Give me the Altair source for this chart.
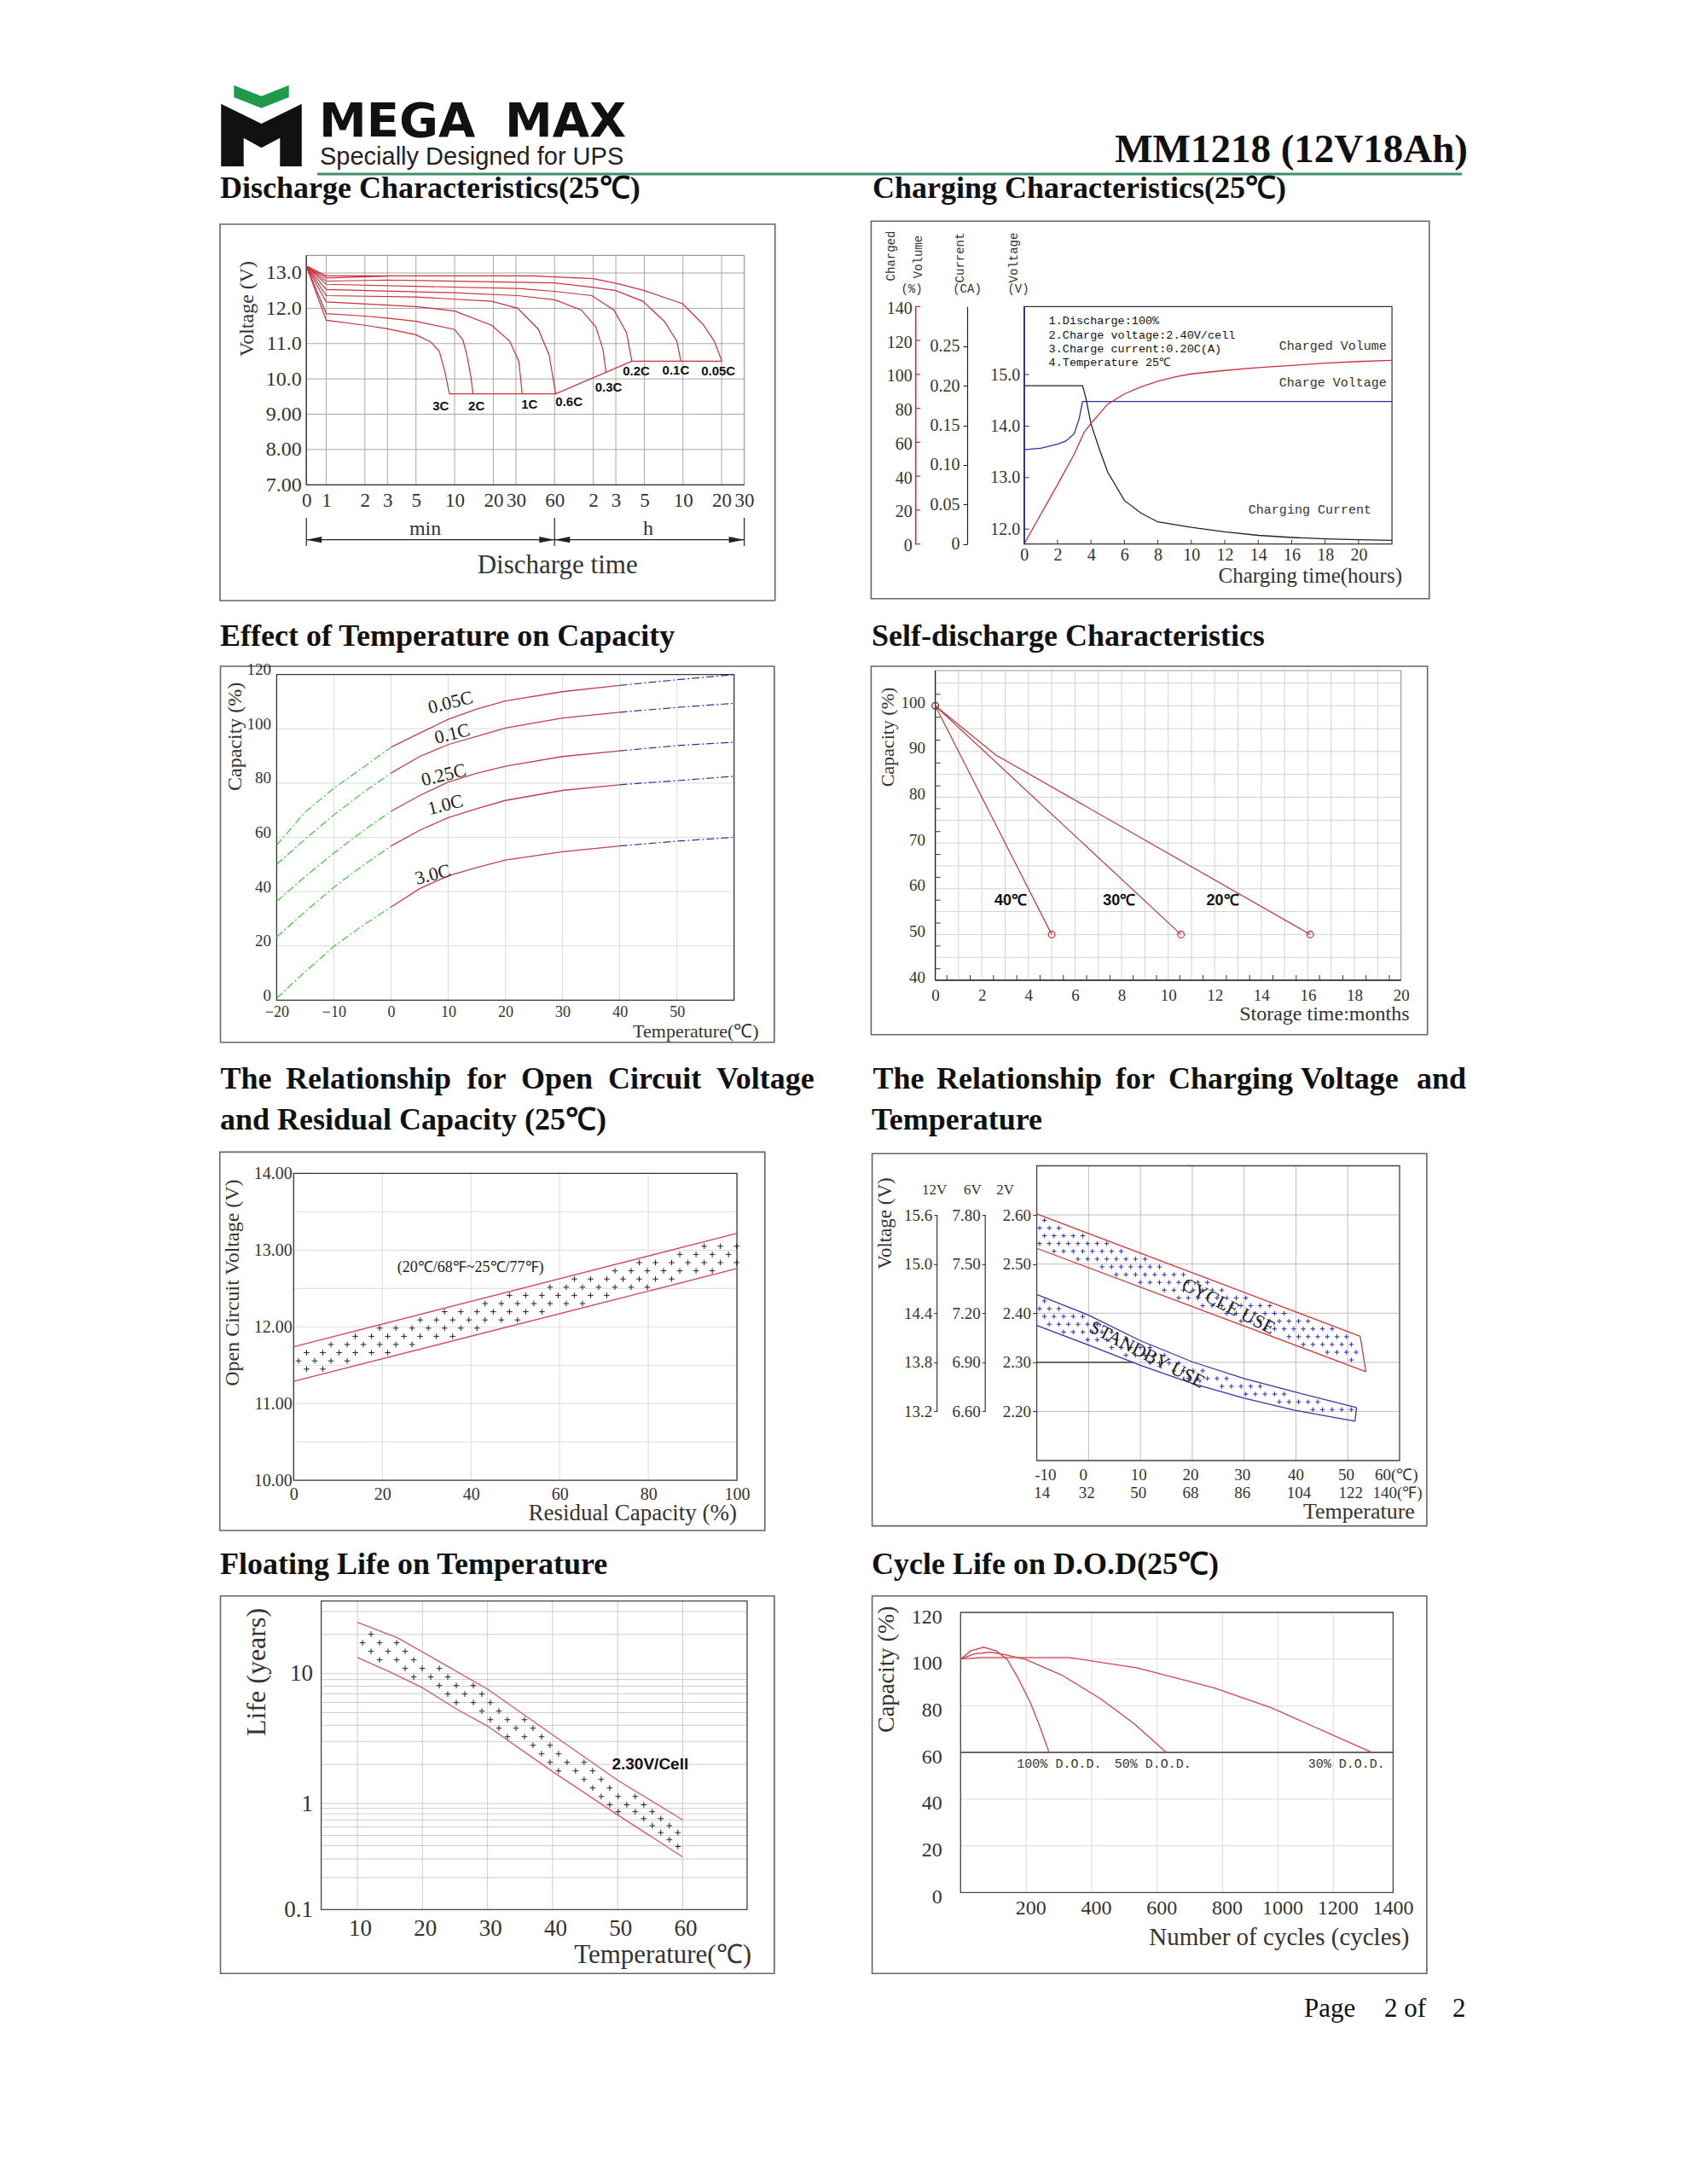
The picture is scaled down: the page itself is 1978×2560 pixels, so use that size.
import altair as alt
import numpy as np
import pandas as pd

# ================================================================
# DATA - values read from the MM1218 (12V18Ah) datasheet page
# ================================================================

# 1) Discharge characteristics (25C); time in minutes (0.7 min = the "0" at the axis origin)
dis_t_3C = [0.7, 1, 2, 3, 5, 6.5, 7.6, 8.4, 9.1]
dis_v_3C = [13.2, 11.66, 11.52, 11.42, 11.25, 11.05, 10.78, 10.2, 9.58]
dis_t_2C = [0.7, 1, 2, 3, 5, 10, 11.6, 12.4, 13.4, 13.9]
dis_v_2C = [13.2, 11.85, 11.78, 11.72, 11.63, 11.40, 11.1, 10.7, 10.05, 9.58]
dis_t_1C = [0.7, 1, 5, 10, 19.4, 26.8, 31.6, 33.6]
dis_v_1C = [13.2, 12.18, 12.05, 11.92, 11.52, 11.07, 10.5, 9.58]
dis_t_06C = [0.7, 1, 5, 19.4, 31, 45, 54.5, 61.2]
dis_v_06C = [13.2, 12.36, 12.32, 12.2, 12.0, 11.4, 10.67, 9.58]
dis_t_03C = [0.7, 1, 10, 31, 60, 97, 126, 143, 151]
dis_v_03C = [13.2, 12.53, 12.44, 12.36, 12.24, 11.95, 11.47, 10.83, 10.19]
dis_t_02C = [0.7, 1, 31, 60, 117, 174, 218, 240]
dis_v_02C = [13.2, 12.68, 12.56, 12.48, 12.36, 11.95, 11.31, 10.5]
dis_t_01C = [0.7, 1, 3, 60, 117, 180, 292, 430, 538, 578]
dis_v_01C = [13.2, 12.77, 12.80, 12.72, 12.60, 12.50, 12.2, 11.63, 11.07, 10.5]
dis_t_005C = [0.7, 1, 40, 120, 185, 300, 595, 857, 1052, 1206]
dis_v_005C = [13.2, 12.92, 12.92, 12.84, 12.70, 12.50, 12.13, 11.55, 11.07, 10.5]
dis_t_aux = [0.7, 1, 3]
dis_v_aux = [13.2, 12.86, 12.91]
dis_cut_t = [9.1, 61.2, 240, 1206]
dis_cut_v = [9.58, 9.58, 10.5, 10.5]
dis_labels = ["3C", "2C", "1C", "0.6C", "0.3C", "0.2C", "0.1C", "0.05C"]
dis_label_t = [7.8, 14.8, 38.3, 77.8, 158, 260, 528, 1130]
dis_label_v = [9.22, 9.22, 9.29, 9.34, 9.77, 10.23, 10.25, 10.21]
dis_x_ticks = [0.7, 1, 2, 3, 5, 10, 20, 30, 60, 120, 180, 300, 600, 1200, 1800]
dis_y_ticks = [7, 8, 9, 10, 11, 12, 13]

# 2) Charging characteristics (25C); time in hours
chg_t_volt = [0, 1, 2, 2.5, 3, 3.3, 3.5, 22]
chg_volt = [13.54, 13.57, 13.65, 13.71, 13.85, 14.15, 14.475, 14.475]
chg_t_cur = [0, 3.5, 3.7, 4, 4.5, 5, 6, 7, 8, 10, 12, 14, 16, 18, 20, 22]
chg_cur = [0.20, 0.20, 0.184, 0.152, 0.12, 0.091, 0.055, 0.039, 0.028, 0.021,
           0.0155, 0.011, 0.0083, 0.0065, 0.0054, 0.0047]
chg_t_vol = [0, 2, 3, 3.6, 4, 5, 6, 7, 8, 9, 10, 12, 14, 16, 18, 20, 22]
chg_vol = [0, 35, 53, 66, 71, 82.5, 88.5, 92.7, 96, 98.5, 100.3, 102.3, 104, 105.3, 106.6, 107.6, 108.3]
chg_notes = ["1.Discharge:100%", "2.Charge voltage:2.40V/cell",
             "3.Charge current:0.20C(A)", "4.Temperature 25\u2103"]
chg_x_ticks = [0, 2, 4, 6, 8, 10, 12, 14, 16, 18, 20]
chg_pct_ticks = [0, 20, 40, 60, 80, 100, 120, 140]
chg_ca_ticks = [0, 0.05, 0.10, 0.15, 0.20, 0.25]
chg_v_ticks = [12, 13, 14, 15]

# 3) Effect of temperature on capacity
tc_rates = ["0.05C", "0.1C", "0.25C", "1.0C", "3.0C"]
tc_t_green = [-20, -15, -10, -5, 0]
tc_t_red = [0, 5, 10, 15, 20, 30, 40]
tc_t_blue = [40, 50, 60]
tc_005_green = [57.1, 69.4, 78.1, 85.6, 93.2]
tc_005_red = [93.2, 98.4, 103.5, 107.3, 110.3, 113.7, 116.0]
tc_005_blue = [116.0, 118.1, 120.0]
tc_01_green = [50.0, 59.4, 68.3, 76.3, 83.7]
tc_01_red = [83.7, 89.8, 94.2, 97.2, 100.3, 104.0, 106.1]
tc_01_blue = [106.1, 107.9, 109.4]
tc_025_green = [36.4, 45.6, 54.2, 62.2, 69.6]
tc_025_red = [69.6, 75.4, 80.4, 83.6, 86.2, 89.8, 91.9]
tc_025_blue = [91.9, 93.8, 95.1]
tc_1_green = [23.3, 32.6, 41.6, 49.5, 56.8]
tc_1_red = [56.8, 62.6, 67.3, 70.6, 73.6, 77.3, 79.4]
tc_1_blue = [79.4, 80.9, 82.5]
tc_3_green = [0.7, 10.5, 19.8, 27.4, 34.3]
tc_3_red = [34.3, 41.1, 45.8, 48.9, 51.6, 54.7, 56.8]
tc_3_blue = [56.8, 58.6, 60.0]
tc_label_t = [10.4, 10.7, 9.2, 9.5, 7.3]
tc_label_c = [109.7, 98.2, 83.0, 72.0, 46.3]

# 4) Self-discharge characteristics (months, %)
sd_t_40 = [0, 5.0]
sd_c_40 = [100, 50]
sd_t_30 = [0, 10.55]
sd_c_30 = [100, 50]
sd_t_20 = [0, 2.6, 16.1]
sd_c_20 = [100, 89.25, 50]
sd_labels = ["40\u2103", "30\u2103", "20\u2103"]
sd_label_t = [3.24, 7.9, 12.34]
sd_label_c = [57.3, 57.3, 57.3]

# 5) Open circuit voltage vs residual capacity
ocv_cap = [0, 100]
ocv_hi = [11.74, 13.22]
ocv_lo = [11.29, 12.76]

# 6) Charging voltage vs temperature (2V cell scale)
cv_cyc_x_hi = [-10, 52.4]
cv_cyc_hi = [2.602, 2.353]
cv_cyc_x_lo = [-10, 53.5]
cv_cyc_lo = [2.532, 2.281]
cv_sb_x_hi = [-10, 0, 10, 20, 30, 40, 51.7]
cv_sb_hi = [2.438, 2.396, 2.344, 2.301, 2.267, 2.239, 2.208]
cv_sb_x_lo = [-10, 0, 10, 20, 30, 40, 51.4]
cv_sb_lo = [2.375, 2.335, 2.294, 2.257, 2.227, 2.202, 2.180]
cv_lab_c = ["-10", "0", "10", "20", "30", "40", "50", "60(\u2103)"]
cv_lab_c_x = [-8.3, -1, 9.7, 19.7, 29.7, 40, 49.7, 59.4]
cv_lab_f = ["14", "32", "50", "68", "86", "104", "122", "140(\u2109)"]
cv_lab_f_x = [-9.0, -0.35, 9.6, 19.7, 29.7, 40.6, 50.6, 59.6]

# 7) Floating life vs temperature
fl_x_hi = [10, 16.2, 22.4, 30, 40, 50, 60]
fl_hi = [24.8, 18.8, 12.5, 7.58, 3.38, 1.51, 0.70]
fl_x_lo = [10, 15.1, 20, 25.1, 30, 40, 50, 60]
fl_lo = [13.3, 10.25, 7.77, 5.38, 3.94, 1.76, 0.78, 0.313]
fl_grid = [0.2, 0.3, 0.4, 0.5, 0.6, 0.7, 0.8, 0.9, 1, 2, 3, 4, 5, 6, 7, 8, 9, 10, 20, 30]

# 8) Cycle life vs depth of discharge
cl_n_100 = [0, 31, 70, 109, 142, 175, 214, 241, 270]
cl_c_100 = [100, 103.5, 105.1, 103.5, 99.9, 92, 81, 71.5, 60]
cl_n_50 = [0, 42, 92, 142, 197, 308, 429, 529, 628]
cl_c_50 = [100, 102.2, 103, 101.7, 99.9, 93.2, 82.8, 72.4, 60]
cl_n_30 = [0, 64, 330, 540, 773, 977, 1340]
cl_c_30 = [100, 100.7, 100.7, 96.2, 87.7, 79.1, 60]
cl_labels = ["100% D.O.D.", "50% D.O.D.", "30% D.O.D."]
cl_label_n = [172, 470, 1109]
cl_label_c = [55.2, 55.2, 55.2]

# ================================================================
# STYLE / LAYOUT HELPERS
# ================================================================
W, H = 1962, 2544
SERIF, MONO, SANS, DSANS = "Liberation Serif", "Liberation Mono", "Liberation Sans", "DejaVu Sans"
INK, LAB = "#111111", "#333333"
RED, BLUE, GREEN = "#c8323c", "#2f2fa0", "#3cc83c"
PLUS = "M-1,0H1M0,-1V1"


def P(v):
    return v - 8


def one():
    return alt.Data(values=[{"k": 0}])


def sc(domain, r0, r1, **kw):
    return alt.Scale(domain=domain, range=[P(r0), P(r1)], nice=False, zero=False, **kw)


def ax_b(at_y, values, size=20, pad=6, **kw):
    d = dict(orient="bottom", offset=P(at_y) - H, values=values, title=None, grid=False,
             domain=False, ticks=False, labelFont=SERIF, labelFontSize=size, labelColor=LAB,
             labelPadding=pad, labelFlush=False, labelOverlap=False, zindex=1)
    d.update(kw)
    return alt.Axis(**d)


def ax_l(at_x, values, size=20, pad=6, **kw):
    d = dict(orient="left", offset=-P(at_x), values=values, title=None, grid=False,
             domain=False, ticks=False, labelFont=SERIF, labelFontSize=size, labelColor=LAB,
             labelPadding=pad, labelFlush=False, labelOverlap=False, zindex=1)
    d.update(kw)
    return alt.Axis(**d)


def T(text, x, y, size, font=SERIF, weight="normal", align="left", baseline="alphabetic",
      angle=0, color=INK):
    return alt.Chart(one()).mark_text(text=text, font=font, fontSize=size, fontWeight=weight,
                                      align=align, baseline=baseline, angle=angle, color=color
                                      ).encode(x=alt.value(P(x)), y=alt.value(P(y)))


def BOX(x0, y0, x1, y1, color="#666666", sw=1.6):
    return alt.Chart(one()).mark_rect(fill="white", fillOpacity=0, stroke=color, strokeWidth=sw).encode(
        x=alt.value(P(x0)), x2=alt.value(P(x1)), y=alt.value(P(y0)), y2=alt.value(P(y1)))


def vrules(vals, y0, y1, xs, ys, color, sw=1.0, xaxis=None, yaxis=None):
    df = pd.DataFrame({"x": list(vals), "y0": y0, "y1": y1})
    return alt.Chart(df).mark_rule(color=color, strokeWidth=sw).encode(
        x=alt.X("x:Q", scale=xs, axis=xaxis), y=alt.Y("y0:Q", scale=ys, axis=yaxis), y2=alt.Y2("y1"))


def hrules(vals, x0, x1, xs, ys, color, sw=1.0, xaxis=None, yaxis=None):
    df = pd.DataFrame({"y": list(vals), "x0": x0, "x1": x1})
    return alt.Chart(df).mark_rule(color=color, strokeWidth=sw).encode(
        y=alt.Y("y:Q", scale=ys, axis=yaxis), x=alt.X("x0:Q", scale=xs, axis=xaxis), x2=alt.X2("x1"))


def pframe(x0, x1, y0, y1, xs, ys, color, sw=1.2, xaxis=None, yaxis=None):
    df = pd.DataFrame({"x0": [x0], "x1": [x1], "y0": [y0], "y1": [y1]})
    return alt.Chart(df).mark_rect(fill="white", fillOpacity=0, stroke=color, strokeWidth=sw).encode(
        x=alt.X("x0:Q", scale=xs, axis=xaxis), x2=alt.X2("x1"),
        y=alt.Y("y0:Q", scale=ys, axis=yaxis), y2=alt.Y2("y1"))


def lines(series, xs, ys, color, sw=1.3, dash=None, yaxis=None, xaxis=None):
    rows = []
    for name, xv, yv in series:
        for i, (a, b) in enumerate(zip(xv, yv)):
            rows.append({"s": name, "x": a, "y": b, "i": i})
    mk = dict(color=color, strokeWidth=sw)
    if dash:
        mk["strokeDash"] = dash
    return alt.Chart(pd.DataFrame(rows)).mark_line(**mk).encode(
        x=alt.X("x:Q", scale=xs, axis=xaxis), y=alt.Y("y:Q", scale=ys, axis=yaxis),
        detail="s:N", order="i:Q")


def dtext(texts, xv, yv, xs, ys, size, font=SERIF, weight="normal", color=INK, angle=0,
          align="center", baseline="middle"):
    df = pd.DataFrame({"x": xv, "y": yv, "t": texts})
    return alt.Chart(df).mark_text(font=font, fontSize=size, fontWeight=weight, color=color,
                                   angle=angle, align=align, baseline=baseline).encode(
        x=alt.X("x:Q", scale=xs, axis=None), y=alt.Y("y:Q", scale=ys, axis=None), text=alt.Text("t:N"))


def pts(xv, yv, xs, ys, shape, size, color, sw=1.0, filled=False):
    df = pd.DataFrame({"x": xv, "y": yv})
    return alt.Chart(df).mark_point(shape=shape, size=size, filled=filled, color=color,
                                    strokeWidth=sw, opacity=1).encode(
        x=alt.X("x:Q", scale=xs, axis=None), y=alt.Y("y:Q", scale=ys, axis=None))


def lattice(xu, yu, xl, yl, dx, dy, log=False, margin=0.38, shift=0.3):
    """texture of '+' marks filling the band between two boundary lines"""
    xu = np.asarray(xu, float); yu = np.asarray(yu, float)
    xl = np.asarray(xl, float); yl = np.asarray(yl, float)
    if log:
        yu = np.log10(yu); yl = np.log10(yl)
    x_lo, x_hi = max(xu[0], xl[0]), min(xu[-1], xl[-1])
    y_lo, y_hi = min(yl.min(), yu.min()), max(yl.max(), yu.max())
    px, py = [], []
    row, y = 0, y_lo + dy * 0.5
    while y < y_hi:
        x = x_lo + dx * (shift + (0.5 if row % 2 else 0.0))
        while x < x_hi:
            lo, hi = np.interp(x, xl, yl), np.interp(x, xu, yu)
            if lo + dy * margin <= y <= hi - dy * margin:
                px.append(float(x)); py.append(float(10 ** y if log else y))
            x += dx
        y += dy
        row += 1
    return px, py


def panel(items):
    # every element keeps its own (explicit) scales and axes
    return alt.layer(*items).resolve_scale(x="independent", y="independent")


L = []

# ================================================================
# HEADER / TITLES / FOOTER
# ================================================================
LOGO_GREEN = "M-0.671,-1L0,-0.735L0.671,-1L0.671,-0.708L0,-0.444L-0.671,-0.708Z"
LOGO_BLACK = ("M-0.985,-0.548L0,-0.0625L0.985,-0.548L0.985,0.979L0.454,0.979L0.454,0.285"
              "L0,0.527L-0.433,0.285L-0.433,0.979L-0.985,0.979Z")
for shp, col in [(LOGO_GREEN, "#1f9a4a"), (LOGO_BLACK, "#111111")]:
    L.append(alt.Chart(one()).mark_point(shape=shp, size=9216, filled=True, color=col, opacity=1,
                                         strokeWidth=0).encode(x=alt.value(P(306.5)), y=alt.value(P(148))))
L.append(T("MEGA", 374, 160, 56, font=DSANS, weight="bold"))
L.append(T("MAX", 592, 160, 56, font=DSANS, weight="bold"))
L.append(T("Specially Designed for UPS", 375, 193, 29, font=SANS, color="#222222"))
L.append(alt.Chart(one()).mark_rule(color="#3c8f68", strokeWidth=3).encode(
    x=alt.value(P(372)), x2=alt.value(P(1714)), y=alt.value(P(204))))
L.append(T("MM1218 (12V18Ah)", 1721, 190, 47, weight="bold", align="right"))

TS = 36
L.append(T("Discharge Characteristics(25\u2103)", 258, 232, TS, weight="bold"))
L.append(T("Charging Characteristics(25\u2103)", 1023, 232, TS, weight="bold"))
L.append(T("Effect of Temperature on Capacity", 258, 757, TS, weight="bold"))
L.append(T("Self-discharge Characteristics", 1022, 757, TS, weight="bold"))
for wtxt, wx in [("The", 258.5), ("Relationship", 335), ("for", 547.5), ("Open", 611),
                 ("Circuit", 713), ("Voltage", 840),
                 ("The", 1023.5), ("Relationship", 1098), ("for", 1308), ("Charging", 1370),
                 ("Voltage", 1525), ("and", 1661)]:
    L.append(T(wtxt, wx, 1276, TS, weight="bold"))
L.append(T("and Residual Capacity (25\u2103)", 258, 1324, TS, weight="bold"))
L.append(T("Temperature", 1022, 1324, TS, weight="bold"))
L.append(T("Floating Life on Temperature", 258, 1845, TS, weight="bold"))
L.append(T("Cycle Life on D.O.D(25\u2103)", 1022, 1845, TS, weight="bold"))

L.append(T("Page", 1529, 2364, 31))
L.append(T("2 of", 1623, 2364, 31))
L.append(T("2", 1703, 2364, 31))

# ================================================================
# 1) DISCHARGE CHARACTERISTICS
# ================================================================
x1 = sc([0.7, 1800], 359.2, 872.6, type="log")
y1 = sc([7, 13.5], 568.3, 299.3)
G1 = "#a8a8a8"
c1 = [
    BOX(258, 262.7, 908.7, 704),
    vrules(dis_x_ticks[1:-1], 7, 13.5, x1, y1, G1, 1,
           xaxis=ax_b(568.3, dis_x_ticks, size=23, pad=7,
                      labelExpr="datum.value < 0.9 ? '0' : (datum.value <= 60 ? format(datum.value, 'd') : format(datum.value / 60, 'd'))")),
    hrules(dis_y_ticks[1:], 0.7, 1800, x1, y1, G1, 1,
           yaxis=ax_l(359.2, dis_y_ticks, size=24, pad=6,
                      labelExpr="datum.value >= 10 ? format(datum.value, '.1f') : format(datum.value, '.2f')")),
    pframe(0.7, 1800, 7, 13.5, x1, y1, "#999999", 1.2),
    vrules([0.7], 7, 13.5, x1, y1, "#333333", 1.3),
    hrules([7], 0.7, 1800, x1, y1, "#333333", 1.3),
    lines([("3C", dis_t_3C, dis_v_3C), ("2C", dis_t_2C, dis_v_2C), ("1C", dis_t_1C, dis_v_1C),
           ("0.6C", dis_t_06C, dis_v_06C), ("0.3C", dis_t_03C, dis_v_03C), ("0.2C", dis_t_02C, dis_v_02C),
           ("0.1C", dis_t_01C, dis_v_01C), ("0.05C", dis_t_005C, dis_v_005C), ("aux", dis_t_aux, dis_v_aux),
           ("cut", dis_cut_t, dis_cut_v)], x1, y1, RED, 1.2),
    dtext(dis_labels, dis_label_t, dis_label_v, x1, y1, 15, font=SANS, weight="bold"),
    # min / h bracket under the time axis
    alt.Chart(pd.DataFrame({"x": [0.7, 60, 1800]})).mark_rule(color="#222222", strokeWidth=1.2).encode(
        x=alt.X("x:Q", scale=x1, axis=None), y=alt.value(P(607)), y2=alt.value(P(640))),
    alt.Chart(pd.DataFrame({"a": [0.7], "b": [1800]})).mark_rule(color="#222222", strokeWidth=1.2).encode(
        x=alt.X("a:Q", scale=x1, axis=None), x2=alt.X2("b"), y=alt.value(P(632.7))),
    alt.Chart(pd.DataFrame({"x": [0.7, 60]})).mark_point(
        shape="M-1,0L1,-0.4L1,0.4Z", size=324, filled=True, color="#222222", opacity=1, strokeWidth=0,
        xOffset=9).encode(x=alt.X("x:Q", scale=x1, axis=None), y=alt.value(P(632.7))),
    alt.Chart(pd.DataFrame({"x": [60, 1800]})).mark_point(
        shape="M1,0L-1,-0.4L-1,0.4Z", size=324, filled=True, color="#222222", opacity=1, strokeWidth=0,
        xOffset=-9).encode(x=alt.X("x:Q", scale=x1, axis=None), y=alt.value(P(632.7))),
    T("min", 498.6, 620, 24, align="center", baseline="middle", color=LAB),
    T("h", 760, 620, 24, align="center", baseline="middle", color=LAB),
    T("Discharge time", 653.7, 663, 31, align="center", baseline="middle", color=LAB),
    T("Voltage (V)", 290, 362, 24, align="center", baseline="middle", angle=270, color=LAB),
]
L.append(panel(c1))

# ================================================================
# 2) CHARGING CHARACTERISTICS
# ================================================================
x2 = sc([0, 22], 1200.7, 1632.1)
yV = sc([11.71, 16.32], 637.7, 359.3)
yA = sc([0, 0.3], 637.7, 359.3)
yP = sc([0, 140], 637.7, 359.3)
c2 = [
    BOX(1021.4, 259.3, 1675.8, 701.7),
    pframe(0, 22, 11.71, 16.32, x2, yV, "#333333", 1.2,
           xaxis=ax_b(637.7, chg_x_ticks, size=20, pad=3)),
    alt.Chart(pd.DataFrame({"x": chg_x_ticks[1:]})).mark_rule(color="#333333").encode(
        x=alt.X("x:Q", scale=x2, axis=None), y=alt.value(P(637.7)), y2=alt.value(P(632.7))),
    lines([("v", chg_t_volt, chg_volt)], x2, yV, BLUE, 1.3,
          yaxis=ax_l(1200.7, chg_v_ticks, size=20, pad=5, format=".1f", domain=True,
                     domainColor=BLUE, domainWidth=1.6)),
    alt.Chart(pd.DataFrame({"y": chg_v_ticks})).mark_rule(color="#333333").encode(
        y=alt.Y("y:Q", scale=yV, axis=None), x=alt.value(P(1200.7)), x2=alt.value(P(1206.7))),
    lines([("a", chg_t_cur, chg_cur)], x2, yA, "#222222", 1.3,
          yaxis=ax_l(1134, chg_ca_ticks, size=20, pad=4, ticks=True, tickSize=5, tickColor="#222222",
                     domain=True, domainColor="#222222", domainWidth=1.2,
                     labelExpr="datum.value == 0 ? '0' : format(datum.value, '.2f')")),
    lines([("p", chg_t_vol, chg_vol)], x2, yP, RED, 1.3,
          yaxis=ax_l(1073.2, chg_pct_ticks, size=20, pad=4, domain=True, domainColor=RED,
                     domainWidth=1.6, labelOffset=2)),
    alt.Chart(pd.DataFrame({"y": chg_pct_ticks})).mark_rule(color=RED, strokeWidth=1.3).encode(
        y=alt.Y("y:Q", scale=yP, axis=None), x=alt.value(P(1073.2)), x2=alt.value(P(1079))),
    T("Charged", 1044.7, 300, 14, font=MONO, align="center", baseline="middle", angle=270, color=LAB),
    T("Volume", 1076.6, 301, 14, font=MONO, align="center", baseline="middle", angle=270, color=LAB),
    T("(%)", 1069, 339, 14, font=MONO, align="center", baseline="middle", color=LAB),
    T("Current", 1126.3, 302, 14, font=MONO, align="center", baseline="middle", angle=270, color=LAB),
    T("(CA)", 1134, 339, 14, font=MONO, align="center", baseline="middle", color=LAB),
    T("Voltage", 1189, 302, 14, font=MONO, align="center", baseline="middle", angle=270, color=LAB),
    T("(V)", 1194, 339, 14, font=MONO, align="center", baseline="middle", color=LAB),
    T("Charged Volume", 1625.7, 405, 15, font=MONO, align="right", baseline="middle", color=LAB),
    T("Charge Voltage", 1625.7, 448.3, 15, font=MONO, align="right", baseline="middle", color=LAB),
    T("Charging Current", 1607.9, 596.7, 15, font=MONO, align="right", baseline="middle", color=LAB),
    T("Charging time(hours)", 1644, 675, 25, align="right", baseline="middle", color=LAB),
]
for k, note in enumerate(chg_notes):
    c2.append(T(note, 1229.6, [376, 392.7, 408.7, 424.7][k], 13.5, font=MONO, baseline="middle", color=INK))
L.append(panel(c2))

# ================================================================
# 3) EFFECT OF TEMPERATURE ON CAPACITY
# ================================================================
x3 = sc([-20, 60], 324.4, 860.7)
y3 = sc([0, 120], 1172.3, 790.7)
G3 = "#dcdcdc"
c3 = [
    BOX(258.5, 781, 907.9, 1221.7),
    vrules([-10, 0, 10, 20, 30, 40, 50], 0, 120, x3, y3, G3, 1,
           xaxis=ax_b(1172.3, [-20, -10, 0, 10, 20, 30, 40, 50], size=18, pad=5)),
    hrules([20, 40, 60, 80, 100], -20, 60, x3, y3, G3, 1,
           yaxis=ax_l(324.4, [0, 20, 40, 60, 80, 100, 120], size=19, pad=7, labelOffset=-6)),
    pframe(-20, 60, 0, 120, x3, y3, "#333333", 1.3),
    lines([(r, tc_t_green, g) for r, g in zip(tc_rates, [tc_005_green, tc_01_green, tc_025_green,
                                                        tc_1_green, tc_3_green])],
          x3, y3, GREEN, 1.2, dash=[9, 3, 2, 3]),
    lines([(r, tc_t_red, g) for r, g in zip(tc_rates, [tc_005_red, tc_01_red, tc_025_red,
                                                      tc_1_red, tc_3_red])],
          x3, y3, "#c0404e", 1.3),
    lines([(r, tc_t_blue, g) for r, g in zip(tc_rates, [tc_005_blue, tc_01_blue, tc_025_blue,
                                                       tc_1_blue, tc_3_blue])],
          x3, y3, BLUE, 1.2, dash=[9, 3, 2, 3]),
    dtext(tc_rates, tc_label_t, tc_label_c, x3, y3, 22, angle=346, color="#222222"),
    T("Temperature(\u2103)", 889.6, 1209, 22, align="right", baseline="middle", color=LAB),
    T("Capacity (%)", 275.5, 863.3, 24, align="center", baseline="middle", angle=270, color=LAB),
]
L.append(panel(c3))

# ================================================================
# 4) SELF-DISCHARGE CHARACTERISTICS
# ================================================================
x4 = sc([0, 20], 1096.6, 1642.7)
y4 = sc([40, 107.7], 1149, 786)
G4 = "#d2d2d2"
c4 = [
    BOX(1021.4, 781, 1673.7, 1212.7),
    vrules(list(range(1, 20)), 40, 107.7, x4, y4, G4, 1,
           xaxis=ax_b(1149, [0, 2, 4, 6, 8, 10, 12, 14, 16, 18, 20], size=19, pad=8)),
    hrules([45, 50, 55, 60, 65, 70, 75, 80, 85, 90, 95, 100, 105], 0, 20, x4, y4, G4, 1,
           yaxis=ax_l(1096.6, [40, 50, 60, 70, 80, 90, 100], size=19, pad=12, labelOffset=-4)),
    pframe(0, 20, 40, 107.7, x4, y4, "#999999", 1.2),
    vrules([0], 40, 107.7, x4, y4, "#222222", 1.3),
    hrules([40], 0, 20, x4, y4, "#222222", 1.3),
    alt.Chart(pd.DataFrame({"y": [42.5 + 5 * k for k in range(13)]})).mark_rule(color="#333333").encode(
        y=alt.Y("y:Q", scale=y4, axis=None), x=alt.value(P(1096.6)), x2=alt.value(P(1102.6))),
    alt.Chart(pd.DataFrame({"x": [0.5 + k for k in range(20)]})).mark_rule(color="#333333").encode(
        x=alt.X("x:Q", scale=x4, axis=None), y=alt.value(P(1149)), y2=alt.value(P(1143))),
    lines([("40", sd_t_40, sd_c_40), ("30", sd_t_30, sd_c_30), ("20", sd_t_20, sd_c_20)],
          x4, y4, "#b83a3a", 1.2),
    pts([sd_t_40[-1], sd_t_30[-1], sd_t_20[-1]], [50, 50, 50], x4, y4, "circle", 60, "#c83a3a", 1.3),
    pts([0], [100], x4, y4, "circle", 60, "#553333", 1.3),
    dtext(sd_labels, sd_label_t, sd_label_c, x4, y4, 18, font=SANS, weight="bold"),
    T("Storage time:months", 1652.5, 1189.3, 24, align="right", baseline="middle", color=LAB),
    T("Capacity (%)", 1041.3, 864, 22, align="center", baseline="middle", angle=270, color=LAB),
]
L.append(panel(c4))

# ================================================================
# 5) OPEN CIRCUIT VOLTAGE vs RESIDUAL CAPACITY
# ================================================================
x5 = sc([0, 100], 344.3, 864.1)
y5 = sc([10, 14], 1735.2, 1375.4)
G5 = "#dcdcdc"
p5x, p5y = lattice(ocv_cap, ocv_hi, ocv_cap, ocv_lo, 3.66, 0.1067)
c5 = [
    BOX(257.7, 1350.4, 896.8, 1794),
    vrules([20, 40, 60, 80], 10, 14, x5, y5, G5, 1,
           xaxis=ax_b(1735.2, [0, 20, 40, 60, 80, 100], size=20, pad=6)),
    hrules([10.5, 11, 11.5, 12, 12.5, 13, 13.5], 0, 100, x5, y5, G5, 1,
           yaxis=ax_l(344.3, [10, 11, 12, 13, 14], size=20, pad=2, format=".2f")),
    pframe(0, 100, 10, 14, x5, y5, "#333333", 1.3),
    pts(p5x, p5y, x5, y5, PLUS, 44, "#222222", 1.0),
    lines([("hi", ocv_cap, ocv_hi), ("lo", ocv_cap, ocv_lo)], x5, y5, "#d04a5a", 1.4),
    dtext(["(20\u2103/68\u2109~25\u2103/77\u2109)"], [39.9], [12.77], x5, y5, 18, color="#222222"),
    T("Residual Capacity (%)", 864, 1774, 27, align="right", baseline="middle", color=LAB),
    T("Open Circuit Voltage (V)", 273.4, 1503.6, 24, align="center", baseline="middle", angle=270,
      color=LAB),
]
L.append(panel(c5))

# ================================================================
# 6) CHARGING VOLTAGE vs TEMPERATURE
# ================================================================
x6 = sc([-10, 60], 1215.6, 1641)
y6 = sc([2.1, 2.7], 1712, 1366.5)
y6b = sc([6.3, 8.1], 1712, 1366.5)
y6c = sc([12.6, 16.2], 1712, 1366.5)
G6 = "#bdbdbd"
pcx, pcy = lattice(cv_cyc_x_hi, cv_cyc_hi, cv_cyc_x_lo, cv_cyc_lo, 1.85, 0.0158)
psx, psy = lattice(cv_sb_x_hi, cv_sb_hi, cv_sb_x_lo, cv_sb_lo, 1.85, 0.0158)
c6 = [
    BOX(1022.6, 1352.2, 1672.9, 1788.6),
    vrules([0, 10, 20, 30, 40, 50], 2.1, 2.7, x6, y6, G6, 1),
    hrules([2.2, 2.3, 2.4, 2.5, 2.6], -10, 60, x6, y6, G6, 1,
           yaxis=ax_l(1215.6, [2.2, 2.3, 2.4, 2.5, 2.6], size=19, pad=2, format=".2f",
                      ticks=True, tickSize=5, tickColor="#333333")),
    pframe(-10, 60, 2.1, 2.7, x6, y6, "#444444", 1.3),
    hrules([2.3], -10, 8.7, x6, y6, "#222222", 1.2),
    pts(pcx, pcy, x6, y6, PLUS, 30, "#2626c8", 1.0),
    pts(psx, psy, x6, y6, PLUS, 30, "#2626c8", 1.0),
    lines([("hi", cv_cyc_x_hi, cv_cyc_hi), ("lo", cv_cyc_x_lo, cv_cyc_lo),
           ("end", [cv_cyc_x_hi[-1], cv_cyc_x_lo[-1]], [cv_cyc_hi[-1], cv_cyc_lo[-1]])],
          x6, y6, "#d03a3a", 1.3),
    lines([("hi", cv_sb_x_hi, cv_sb_hi), ("lo", cv_sb_x_lo, cv_sb_lo),
           ("end", [cv_sb_x_hi[-1], cv_sb_x_lo[-1]], [cv_sb_hi[-1], cv_sb_lo[-1]])],
          x6, y6, "#3434a8", 1.3),
    dtext(["CYCLE USE"], [27.0], [2.414], x6, y6, 22, angle=27, color="#222222"),
    dtext(["STANDBY USE"], [11.3], [2.316], x6, y6, 22, angle=27, color="#222222"),
    alt.Chart(pd.DataFrame({"a": [6.6], "b": [7.8]})).mark_rule(color="#333333", strokeWidth=1.2).encode(
        x=alt.value(P(1155.2)),
        y=alt.Y("a:Q", scale=y6b, axis=ax_l(1155.2, [6.6, 6.9, 7.2, 7.5, 7.8], size=19, pad=2,
                                              format=".2f", ticks=True, tickSize=4, tickColor="#333333")),
        y2=alt.Y2("b")),
    alt.Chart(pd.DataFrame({"a": [13.2], "b": [15.6]})).mark_rule(color="#333333", strokeWidth=1.2).encode(
        x=alt.value(P(1098.7)),
        y=alt.Y("a:Q", scale=y6c, axis=ax_l(1098.7, [13.2, 13.8, 14.4, 15.0, 15.6], size=19, pad=2,
                                              format=".1f", ticks=True, tickSize=4, tickColor="#333333")),
        y2=alt.Y2("b")),
    alt.Chart(pd.DataFrame({"x": cv_lab_c_x, "t": cv_lab_c})).mark_text(
        font=SERIF, fontSize=19, color=LAB, align="center", baseline="middle").encode(
        x=alt.X("x:Q", scale=x6, axis=None), y=alt.value(P(1728.8)), text=alt.Text("t:N")),
    alt.Chart(pd.DataFrame({"x": cv_lab_f_x, "t": cv_lab_f})).mark_text(
        font=SERIF, fontSize=19, color=LAB, align="center", baseline="middle").encode(
        x=alt.X("x:Q", scale=x6, axis=None), y=alt.value(P(1750.2)), text=alt.Text("t:N")),
    T("12V", 1095.7, 1395, 17, align="center", baseline="middle", color=LAB),
    T("6V", 1140.4, 1395, 17, align="center", baseline="middle", color=LAB),
    T("2V", 1178.6, 1395, 17, align="center", baseline="middle", color=LAB),
    T("Voltage (V)", 1038.4, 1434, 23, align="center", baseline="middle", angle=270, color=LAB),
    T("Temperature", 1658.9, 1771.5, 26, align="right", baseline="middle", color=LAB),
]
L.append(panel(c6))

# ================================================================
# 7) FLOATING LIFE vs TEMPERATURE
# ================================================================
x7 = sc([4.43, 69.9], 376.6, 876)
y7 = alt.Scale(type="log", domain=[0.1, 1, 10, 36.1],
               range=[P(2238.3), P(2114), P(1961.7), P(1876.7)], nice=False, zero=False)
G7 = "#cccccc"
p7x, p7y = lattice(fl_x_hi, fl_hi, fl_x_lo, fl_lo, 2.62, 0.0657, log=True)
c7 = [
    BOX(258.5, 1870.7, 907.9, 2313.3),
    vrules([10, 20, 30, 40, 50, 60], 0.1, 36.1, x7, y7, G7, 1,
           xaxis=ax_b(2238.3, [10, 20, 30, 40, 50, 60], size=27, pad=9, labelOffset=3)),
    hrules(fl_grid, 4.43, 69.9, x7, y7, G7, 1,
           yaxis=ax_l(376.6, [0.1, 1, 10], size=27, pad=10,
                      labelExpr="datum.value < 0.5 ? '0.1' : format(datum.value, 'd')")),
    pframe(4.43, 69.9, 0.1, 36.1, x7, y7, "#444444", 1.3),
    pts(p7x, p7y, x7, y7, PLUS, 44, "#222222", 1.0),
    lines([("hi", fl_x_hi, fl_hi), ("lo", fl_x_lo, fl_lo)], x7, y7, "#d05a64", 1.3),
    dtext(["2.30V/Cell"], [55.0], [1.99], x7, y7, 19, font=SANS, weight="bold"),
    T("Temperature(\u2103)", 881, 2291.7, 31, align="right", baseline="middle", color=LAB),
    T("Life  (years)", 301, 1960, 32, align="center", baseline="middle", angle=270, color=LAB),
]
L.append(panel(c7))

# ================================================================
# 8) CYCLE LIFE vs D.O.D.
# ================================================================
x8 = alt.Scale(domain=[0, 800, 1200, 1417], range=[P(1126.3), P(1433.6), P(1563.2), P(1633.4)],
               nice=False, zero=False)
y8 = sc([0, 120], 2218.3, 1890)
G8 = "#dcdcdc"
c8 = [
    BOX(1022.6, 1870.7, 1672.9, 2313.3),
    vrules([200, 400, 600, 800, 1000, 1200], 0, 120, x8, y8, G8, 1,
           xaxis=ax_b(2218.3, [200, 400, 600, 800, 1000, 1200, 1400], size=24, pad=6, labelOffset=5,
                      format="d")),
    hrules([20, 40, 80, 100], 0, 1417, x8, y8, G8, 1,
           yaxis=ax_l(1126.3, [0, 20, 40, 60, 80, 100, 120], size=24, pad=22, labelOffset=5)),
    pframe(0, 1417, 0, 120, x8, y8, "#444444", 1.3),
    hrules([60], 0, 1417, x8, y8, "#555555", 1.6),
    lines([("100", cl_n_100, cl_c_100), ("50", cl_n_50, cl_c_50), ("30", cl_n_30, cl_c_30)],
          x8, y8, "#d04450", 1.3),
    dtext(cl_labels, cl_label_n, cl_label_c, x8, y8, 15, font=MONO, color="#333333", align="left"),
    T("Number of cycles (cycles)", 1652.5, 2270.7, 29, align="right", baseline="middle", color=LAB),
    T("Capacity  (%)", 1039.6, 1956.7, 28, align="center", baseline="middle", angle=270, color=LAB),
]
L.append(panel(c8))

# ================================================================
chart = alt.layer(*L).resolve_scale(x="independent", y="independent").properties(
    width=W, height=H, autosize=alt.AutoSizeParams(type="none"), padding=0, background="white"
).configure_view(strokeWidth=0)

chart.save("out.html", embed_options={"renderer": "svg", "actions": False})
